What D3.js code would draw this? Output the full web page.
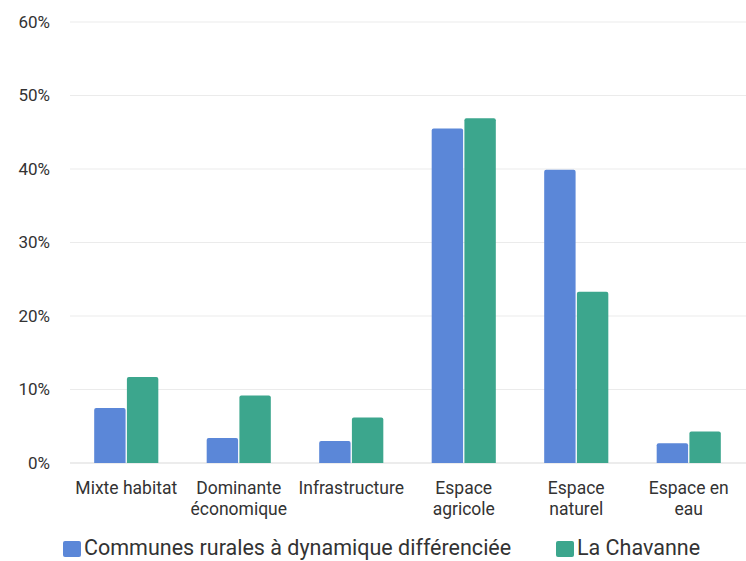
<!DOCTYPE html>
<html>
<head>
<meta charset="utf-8">
<script src="https://cdn.jsdelivr.net/npm/d3@7"></script>
<style>
  body { margin: 0; background: #fff; }
  text { font-family: Roboto, "Noto Sans", sans-serif; fill: #333; }
</style>
</head>
<body>
<svg id="chart" width="746" height="561"></svg>
<script>
const categories = [
  ['Mixte habitat'],
  ['Dominante', 'économique'],
  ['Infrastructure'],
  ['Espace', 'agricole'],
  ['Espace', 'naturel'],
  ['Espace en', 'eau']
];
const seriesNames = ['Communes rurales à dynamique différenciée', 'La Chavanne'];
const communesRurales = [7.5, 3.4, 3.0, 45.5, 39.9, 2.7];
const laChavanne = [11.7, 9.2, 6.2, 46.9, 23.3, 4.3];
const yTicks = [0, 10, 20, 30, 40, 50, 60];
const colors = ['#5b87d8', '#3ca68d'];

const svg = d3.select('#chart');
const margin = { left: 70, right: 1, top: 22, bottom: 98 };
const width = 746, height = 561;

const x0 = d3.scaleBand()
  .domain(d3.range(categories.length))
  .range([margin.left, width - margin.right])
  .paddingInner(0.43)
  .paddingOuter(0.215);
const x1 = d3.scaleBand()
  .domain([0, 1])
  .range([0, x0.bandwidth()])
  .paddingInner(0.04);
const y = d3.scaleLinear()
  .domain([0, 60])
  .range([height - margin.bottom, margin.top]);

// gridlines
svg.append('g')
  .selectAll('line')
  .data(yTicks)
  .enter()
  .append('line')
  .attr('x1', margin.left)
  .attr('x2', width)
  .attr('y1', d => y(d))
  .attr('y2', d => y(d))
  .attr('stroke', d => d === 0 ? '#d9d9d9' : '#ebebeb')
  .attr('stroke-width', 1);

// y axis labels
const yAxis = d3.axisLeft(y).tickValues(yTicks).tickFormat(d => d + '%').tickSize(0).tickPadding(20);
svg.append('g')
  .attr('transform', 'translate(' + margin.left + ',0)')
  .call(yAxis)
  .call(g => g.select('.domain').remove())
  .selectAll('text')
  .style('font-size', '17px')
  .style('font-family', 'Roboto, sans-serif')
  .attr('fill', '#333');

// bars
const series = [communesRurales, laChavanne];
const groups = svg.append('g')
  .selectAll('g')
  .data(categories)
  .enter()
  .append('g')
  .attr('transform', (d, i) => 'translate(' + x0(i) + ',0)');

groups.selectAll('path')
  .data((d, i) => series.map((s, k) => ({ k: k, v: s[i] })))
  .enter()
  .append('path')
  .attr('fill', d => colors[d.k])
  .attr('d', d => {
    const bx = x1(d.k), bw = x1.bandwidth();
    const top = y(d.v), bottom = y(0), r = 2;
    return 'M' + bx + ',' + bottom +
      'V' + (top + r) +
      'Q' + bx + ',' + top + ' ' + (bx + r) + ',' + top +
      'H' + (bx + bw - r) +
      'Q' + (bx + bw) + ',' + top + ' ' + (bx + bw) + ',' + (top + r) +
      'V' + bottom + 'Z';
  });

// x labels
groups.append('text')
  .attr('x', x0.bandwidth() / 2)
  .attr('y', y(0) + 31)
  .attr('text-anchor', 'middle')
  .style('font-size', '17.5px')
  .selectAll('tspan')
  .data(d => d)
  .enter()
  .append('tspan')
  .attr('x', x0.bandwidth() / 2)
  .attr('dy', (d, i) => i === 0 ? 0 : 21)
  .text(d => d);

// legend
const legendX = [63, 556];
const legend = svg.append('g')
  .selectAll('g')
  .data(seriesNames)
  .enter()
  .append('g')
  .attr('transform', (d, i) => 'translate(' + legendX[i] + ',541)');
legend.append('rect')
  .attr('width', 18)
  .attr('height', 16)
  .attr('rx', 2)
  .attr('fill', (d, i) => colors[i]);
legend.append('text')
  .attr('x', 21)
  .attr('y', 14)
  .style('font-size', '21.5px')
  .text(d => d);
</script>
</body>
</html>
